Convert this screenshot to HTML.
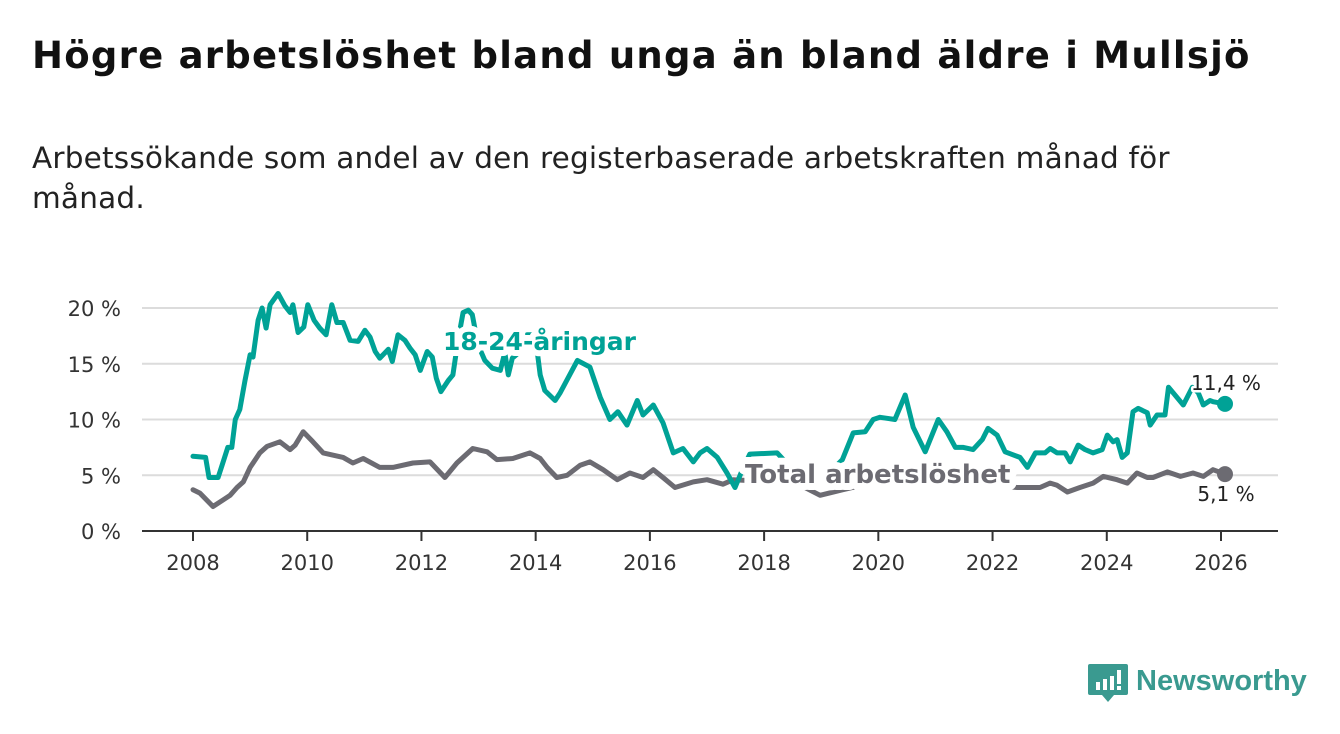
<!DOCTYPE html>
<html><head><meta charset="utf-8"><style>
body{margin:0;width:1340px;height:734px;background:#fff;overflow:hidden;font-family:"DejaVu Sans","Liberation Sans",sans-serif}
h1{position:absolute;left:32px;top:34px;margin:0;font-size:37px;font-weight:bold;color:#111;letter-spacing:1.25px;white-space:nowrap}
p{position:absolute;left:32px;top:138px;margin:0;font-size:29.5px;line-height:40px;color:#222;width:1250px;letter-spacing:0.2px;white-space:nowrap}
svg{position:absolute;left:0;top:0}
</style></head><body>
<h1>Högre arbetslöshet bland unga än bland äldre i Mullsjö</h1>
<p>Arbetssökande som andel av den registerbaserade arbetskraften månad för<br>månad.</p>
<svg id="chart" width="1340" height="734"></svg>
<script>
const xTicks=[2008,2010,2012,2014,2016,2018,2020,2022,2024,2026];
const yTicks=[0,5,10,15,20];
const youthDates=[2008.00,2008.22,2008.28,2008.44,2008.51,2008.61,2008.68,2008.74,2008.82,2008.91,2009.0,2009.05,2009.14,2009.21,2009.28,2009.35,2009.49,2009.61,2009.70,2009.75,2009.84,2009.94,2010.01,2010.12,2010.22,2010.33,2010.43,2010.52,2010.63,2010.75,2010.89,2011.01,2011.10,2011.19,2011.27,2011.42,2011.49,2011.59,2011.71,2011.80,2011.89,2011.98,2012.10,2012.19,2012.26,2012.34,2012.47,2012.55,2012.64,2012.73,2012.82,2012.89,2012.99,2013.11,2013.24,2013.38,2013.46,2013.52,2013.59,2013.73,2013.85,2013.99,2014.08,2014.16,2014.34,2014.43,2014.73,2014.95,2015.13,2015.30,2015.44,2015.60,2015.78,2015.88,2016.06,2016.23,2016.41,2016.58,2016.76,2016.88,2017.0,2017.18,2017.35,2017.49,2017.62,2017.75,2018.23,2018.5,2018.8,2019.1,2019.37,2019.56,2019.77,2019.91,2020.03,2020.29,2020.47,2020.61,2020.82,2021.05,2021.20,2021.35,2021.49,2021.66,2021.82,2021.92,2022.08,2022.22,2022.48,2022.61,2022.75,2022.92,2023.01,2023.13,2023.27,2023.36,2023.50,2023.62,2023.76,2023.92,2024.01,2024.11,2024.18,2024.27,2024.36,2024.46,2024.55,2024.71,2024.76,2024.88,2025.02,2025.08,2025.34,2025.50,2025.60,2025.69,2025.81,2025.86,2026.07];
const youthValues=[6.7,6.6,4.8,4.8,5.9,7.5,7.5,10.0,10.9,13.5,15.8,15.6,18.9,20.0,18.2,20.3,21.3,20.2,19.6,20.3,17.8,18.3,20.3,18.9,18.2,17.6,20.3,18.7,18.7,17.1,17.0,18.0,17.4,16.1,15.5,16.3,15.2,17.6,17.1,16.4,15.8,14.4,16.1,15.6,13.7,12.5,13.5,14.0,17.1,19.6,19.8,19.4,16.7,15.3,14.6,14.4,16.0,14.0,15.5,16.1,17.6,17.6,14.0,12.6,11.7,12.4,15.3,14.7,12.0,10.0,10.7,9.5,11.7,10.4,11.3,9.7,7.0,7.4,6.2,7.0,7.4,6.6,5.2,3.9,5.5,6.9,7.0,5.5,4.5,5.0,6.4,8.8,8.9,10.0,10.2,10.0,12.2,9.3,7.1,10.0,8.9,7.5,7.5,7.3,8.2,9.2,8.6,7.1,6.6,5.7,7.0,7.0,7.4,7.0,7.0,6.2,7.7,7.3,7.0,7.3,8.6,8.0,8.2,6.6,7.0,10.7,11.0,10.6,9.5,10.4,10.4,12.9,11.3,12.9,12.4,11.3,11.7,11.6,11.4];
const totalDates=[2008.0,2008.12,2008.35,2008.53,2008.65,2008.77,2008.88,2009.0,2009.17,2009.30,2009.52,2009.70,2009.79,2009.93,2010.10,2010.28,2010.63,2010.80,2010.98,2011.27,2011.50,2011.85,2012.15,2012.41,2012.62,2012.90,2013.15,2013.32,2013.60,2013.90,2014.08,2014.20,2014.37,2014.55,2014.78,2014.95,2015.18,2015.43,2015.65,2015.88,2016.06,2016.23,2016.44,2016.76,2017.0,2017.28,2017.46,2017.8,2018.2,2018.6,2018.98,2019.38,2019.8,2020.3,2020.8,2021.3,2021.8,2022.2,2022.43,2022.83,2023.01,2023.13,2023.31,2023.53,2023.76,2023.94,2024.18,2024.36,2024.53,2024.71,2024.81,2025.06,2025.29,2025.51,2025.69,2025.86,2026.07];
const totalValues=[3.7,3.4,2.2,2.8,3.2,3.9,4.4,5.7,7.0,7.6,8.0,7.3,7.7,8.9,8.0,7.0,6.6,6.1,6.5,5.7,5.7,6.1,6.2,4.8,6.1,7.4,7.1,6.4,6.5,7.0,6.5,5.7,4.8,5.0,5.9,6.2,5.5,4.6,5.2,4.8,5.5,4.8,3.9,4.4,4.6,4.2,4.6,4.5,4.4,4.2,3.2,3.7,4.2,4.8,4.6,4.3,4.3,4.0,3.9,3.9,4.3,4.1,3.5,3.9,4.3,4.9,4.6,4.3,5.2,4.8,4.8,5.3,4.9,5.2,4.9,5.5,5.1];

const NS='http://www.w3.org/2000/svg';
const svg=document.getElementById('chart');
const X=d=>193+(d-2008)*(1028/18);
const Y=v=>531-v*11.15;
function mk(t,a,p){const e=document.createElementNS(NS,t);for(const k in a)e.setAttribute(k,a[k]);(p||svg).appendChild(e);return e;}

yTicks.forEach(v=>{
  if(v>0){const g=mk('line',{x1:142,x2:1278,y1:Y(v),y2:Y(v),stroke:'#dcdcdc','stroke-width':2});
  
  }
  const t=mk('text',{x:121,y:Y(v)+8,'text-anchor':'end','font-size':21,fill:'#333'});
  t.textContent=v+' %';
  
  
});
const ax=mk('line',{x1:142,x2:1278,y1:531,y2:531,stroke:'#333','stroke-width':2});


xTicks.forEach(d=>{
  const l=mk('line',{x1:X(d),x2:X(d),y1:531,y2:541,stroke:'#333','stroke-width':2});
  
  
  const t=mk('text',{x:X(d),y:570,'text-anchor':'middle','font-size':21,fill:'#333'});
  t.textContent=d;
  
  
});
function line(ds,vs,col,name){
  const p=mk('path',{d:ds.map((d,i)=>(i?'L':'M')+X(d).toFixed(1)+','+Y(vs[i]).toFixed(1)).join(''),fill:'none',stroke:col,'stroke-width':5,'stroke-linejoin':'round','stroke-linecap':'round'});
  
  
  const n=ds.length-1;
  const c=mk('circle',{cx:X(ds[n]),cy:Y(vs[n]),r:8,fill:col});
  
  
}
line(totalDates,totalValues,'#6c6b72','total-line');
line(youthDates,youthValues,'#00a296','youth-line');
function lab(x,y,txt,col,size,bold,name,anchor,sw){
  const t=mk('text',{x:x,y:y,'font-size':size,'font-weight':bold?'bold':'normal',fill:col,stroke:'#fff','stroke-width':sw,'paint-order':'stroke','stroke-linejoin':'round','text-anchor':anchor||'start'});
  t.textContent=txt;
  
  
}
lab(443,350,'18-24-åringar','#00a296',25,true,'youth-series-label','start',12);
lab(745,483,'Total arbetslöshet','#6c6b72',26,true,'total-series-label','start',14);
lab(1226,390,'11,4 %','#222',20,false,'youth-end-value','middle',5);
lab(1226,501,'5,1 %','#222',20,false,'total-end-value','middle',5);
</script>
<svg width="1340" height="734" style="pointer-events:none">
  <path d="M1090 664 h36 a2 2 0 0 1 2 2 v27 a2 2 0 0 1 -2 2 h-12 l-6 7 l-6 -7 h-12 a2 2 0 0 1 -2 -2 v-27 a2 2 0 0 1 2 -2z" fill="#3a9a90"/>
  <rect x="1096" y="682" width="4" height="8" fill="#fff"/><rect x="1103" y="679" width="4" height="11" fill="#fff"/><rect x="1110" y="676" width="4" height="14" fill="#fff"/><rect x="1117" y="670" width="4" height="14" fill="#fff"/><rect x="1117" y="686" width="4" height="4" fill="#fff"/>
  <text x="1136" y="690" font-size="29" font-weight="bold" fill="#3a9a90" font-family="Liberation Sans, sans-serif">Newsworthy</text>
</svg>
</body></html>
